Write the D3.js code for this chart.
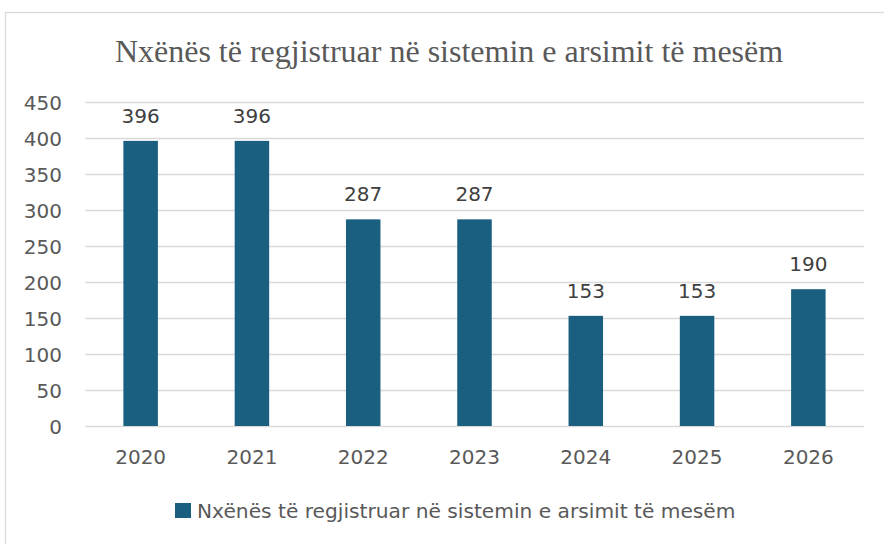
<!DOCTYPE html>
<html>
<head>
<meta charset="utf-8">
<script src="https://cdn.jsdelivr.net/npm/d3@7"></script>
<style>
  body { margin: 0; background: #fff; }
  .grid line { stroke: #d9d9d9; stroke-width: 1.3; }
  .grid path { display: none; }
  .axis text { font-family: "DejaVu Sans", sans-serif; font-size: 20px; fill: #595959; }
  .axis path, .axis line { display: none; }
</style>
</head>
<body>
<script>
const years = ["2020", "2021", "2022", "2023", "2024", "2025", "2026"];
const students = [396, 396, 287, 287, 153, 153, 190];
const yTicks = [0, 50, 100, 150, 200, 250, 300, 350, 400, 450];
const seriesName = "Nxënës të regjistruar në sistemin e arsimit të mesëm";
const chartTitle = "Nxënës të regjistruar në sistemin e arsimit të mesëm";

const w = 884, h = 544;
const margin = {top: 102, right: 20, bottom: 118, left: 85};
const barColor = "#1a5e80";
const labelFont = "'DejaVu Sans', sans-serif";

const data = years.map((y, i) => ({year: y, value: students[i]}));

const svg = d3.select("body").append("svg")
    .attr("width", w)
    .attr("height", h);

// chart frame
svg.append("rect")
    .attr("x", 5.5).attr("y", 12.5)
    .attr("width", w - 4).attr("height", h)
    .attr("fill", "#fff")
    .attr("stroke", "#d9d9d9")
    .attr("stroke-width", 1.3);

let x = d3.scaleBand()
    .domain(years)
    .range([margin.left, w - margin.right])
    .paddingInner(0.69)
    .paddingOuter(0.345);

let y = d3.scaleLinear()
    .domain([0, 450])
    .range([h - margin.bottom, margin.top]);

svg.append("g")
    .attr("class", "grid")
    .attr("transform", `translate(${margin.left},0)`)
    .call(d3.axisLeft(y).tickValues(yTicks)
        .tickSize(-(w - margin.left - margin.right))
        .tickFormat(""));

svg.selectAll("rect.bar")
    .data(data)
    .enter().append("rect")
    .attr("class", "bar")
    .attr("x", d => x(d.year))
    .attr("y", d => y(d.value))
    .attr("width", x.bandwidth())
    .attr("height", d => y(0) - y(d.value))
    .attr("fill", barColor);

svg.selectAll("text.val")
    .data(data)
    .enter().append("text")
    .attr("class", "val")
    .attr("x", d => x(d.year) + x.bandwidth() / 2)
    .attr("y", d => y(d.value) - 18)
    .attr("text-anchor", "middle")
    .style("font-family", labelFont)
    .style("font-size", "20px")
    .style("fill", "#404040")
    .text(d => d.value);

svg.append("g")
    .attr("class", "axis")
    .attr("transform", `translate(${margin.left - 23},0)`)
    .call(d3.axisLeft(y).tickValues(yTicks).tickSize(0).tickPadding(0))
    .selectAll("text").attr("dy", "0.36em");

svg.append("g")
    .attr("class", "axis")
    .attr("transform", `translate(0,${h - margin.bottom})`)
    .call(d3.axisBottom(x).tickSize(0).tickPadding(0))
    .selectAll("text").attr("y", 38).attr("dy", null);

svg.append("text")
    .attr("x", 449)
    .attr("y", 62)
    .attr("text-anchor", "middle")
    .style("font-family", "'Liberation Serif', 'Times New Roman', serif")
    .style("font-size", "32px")
    .style("fill", "#595959")
    .text(chartTitle);

const legend = svg.append("g").attr("transform", "translate(175,503)");
legend.append("rect")
    .attr("width", 16).attr("height", 15)
    .attr("fill", barColor);
legend.append("text")
    .attr("x", 22).attr("y", 15)
    .style("font-family", labelFont)
    .style("font-size", "20.2px")
    .style("fill", "#595959")
    .text(seriesName);
</script>
</body>
</html>
